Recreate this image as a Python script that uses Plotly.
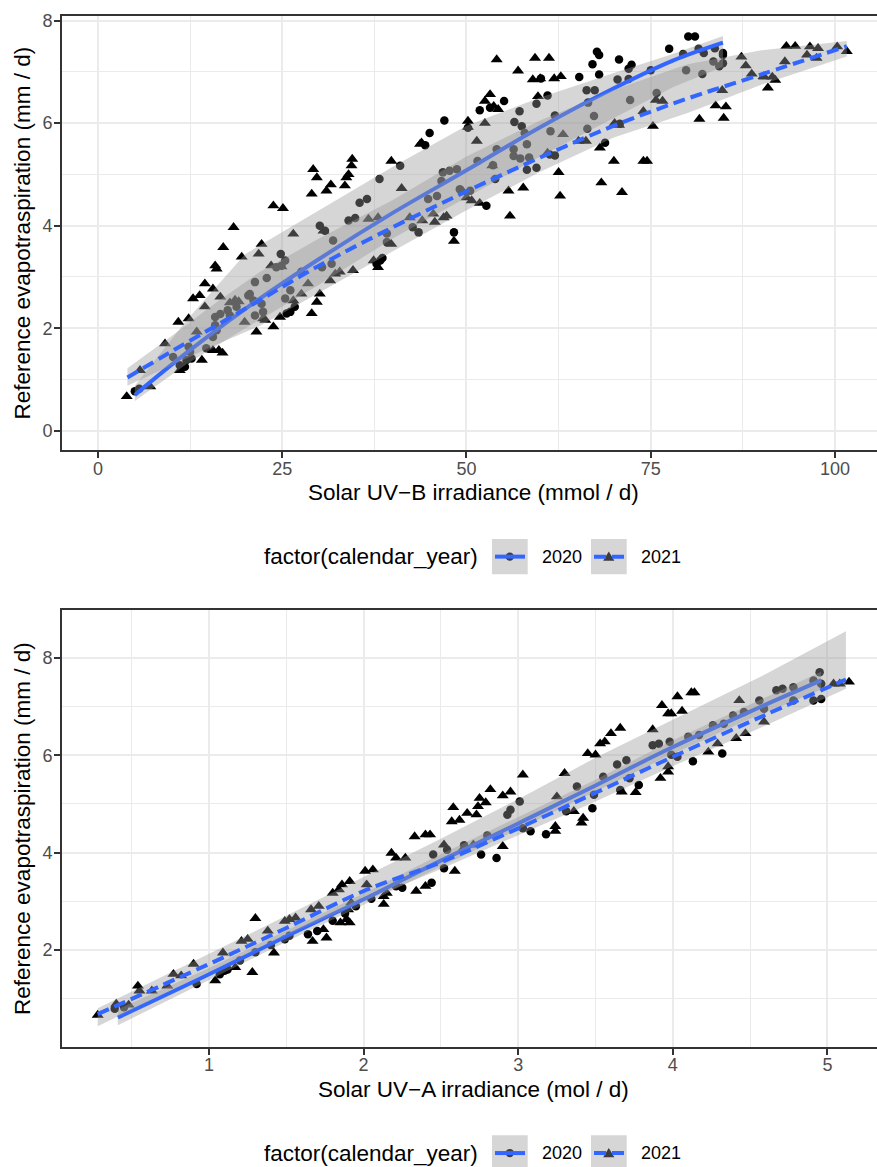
import plotly.graph_objects as go

W, H = 877, 1167

# ---------------- Top panel: Solar UV-B irradiance (mmol / d) ----------------
uvb_2020 = [(5.0,0.77),(5.6,0.82),(10.2,1.44),(11.1,1.28),(11.8,1.25),(12.0,1.38),(12.3,1.64),(12.5,1.54),(12.7,1.41),
            (14.7,1.61),(15.6,1.83),(15.9,2.22),(15.9,2.06),(16.1,1.96),(16.6,2.28),(17.6,2.35),(17.9,2.25),(18.8,2.42),
            (18.8,2.51),(20.4,2.64),(20.6,2.67),(21.1,2.54),(21.3,2.90),(21.3,2.25),(22.2,2.48),(22.4,2.32),(22.9,2.98),
            (24.2,3.19),(24.8,3.45),(24.9,3.22),(25.4,3.32),(25.4,2.58),(25.6,2.29),(26.1,2.32),(26.1,2.74),(26.7,2.42),
            (27.6,3.10),(30.1,4.00),(30.8,3.90),(30.4,3.19),(31.7,3.26),(31.9,3.71),(34.0,4.10),(34.9,4.15),(35.5,4.45),
            (36.5,4.52),(37.8,3.26),(38.3,3.32),(38.6,3.37),(38.2,4.91),(39.2,3.68),(39.2,3.85),(41.0,5.17),(42.7,3.97),
            (43.5,3.87),(44.4,5.57),(44.8,4.52),(45.0,5.81),(46.0,4.58),(46.6,4.87),(46.8,5.04),(47.0,6.05),(47.7,5.07),
            (48.3,3.87),(48.7,5.10),(49.1,4.71),(50.5,4.68),(50.2,5.91),(51.5,5.26),(51.8,6.25),(52.7,4.39),(53.2,6.30),
            (53.6,5.18),(53.9,4.91),(54.1,5.49),(55.1,6.43),(56.4,5.49),(56.4,5.36),(56.5,6.02),(57.2,6.23),(57.3,5.31),
            (57.5,5.94),(57.9,5.81),(58.2,5.59),(58.2,5.09),(58.5,5.33),(59.5,5.13),(59.5,6.38),(60.1,6.87),(61.0,6.54),
            (61.4,5.84),(62.0,6.15),(62.0,5.37),(61.3,5.39),(65.3,6.90),(66.3,6.64),(66.4,5.89),(66.5,6.40),(67.1,7.15),
            (67.3,6.14),(67.4,6.64),(67.7,7.39),(68.0,7.33),(68.0,6.95),(68.8,5.62),(70.5,6.85),(70.7,7.24),(70.8,5.99),
            (72.0,6.86),(72.2,6.45),(72.4,7.14),(72.0,7.06),(75.0,7.03),(75.8,6.59),(77.5,7.45),(79.4,7.35),(79.8,7.03),
            (80.1,7.69),(81.0,7.69),(81.5,7.45),(82.0,6.96),(82.2,7.37),(83.5,7.20),(83.7,7.46),(84.3,7.11),(84.8,7.33),
            (84.8,7.17),(84.8,7.37)]
uvb_2021 = [(3.9,0.67),(5.7,1.18),(7.1,0.86),(9.1,1.70),(10.9,2.12),(11.1,1.18),(12.3,2.19),(12.9,2.58),(13.4,1.93),
            (13.8,2.64),(14.1,1.38),(14.5,2.87),(14.5,2.42),(15.6,2.77),(15.6,1.57),(15.9,3.22),(16.1,3.16),(16.4,1.57),
            (16.9,1.52),(16.6,2.61),(17.0,3.58),(17.9,2.50),(18.4,3.97),(18.6,2.55),(19.1,2.52),(19.5,3.39),(19.9,2.12),
            (21.5,1.93),(21.8,3.45),(22.2,3.64),(22.4,2.19),(22.7,2.16),(23.5,3.22),(23.8,2.03),(23.8,4.39),(24.7,2.22),
            (24.9,3.20),(25.1,4.34),(26.5,3.84),(26.5,2.54),(27.6,2.67),(28.5,2.87),(29.0,4.62),(29.0,2.29),(29.2,5.10),
            (29.7,4.94),(29.7,2.51),(30.1,2.67),(30.6,3.90),(31.0,4.68),(31.5,2.93),(31.6,4.80),(32.2,3.06),(32.8,3.10),
            (33.5,4.78),(33.7,4.94),(34.0,5.00),(34.4,5.17),(34.5,5.30),(34.6,3.13),(36.7,4.13),(37.4,3.32),(38.0,3.19),
            (38.0,4.16),(39.8,5.26),(39.8,3.64),(41.2,4.73),(42.3,4.16),(43.7,5.59),(43.9,5.62),(44.0,4.10),(45.5,4.23),
            (45.7,4.07),(46.9,4.16),(47.3,4.19),(48.3,3.70),(49.6,4.65),(50.0,4.55),(50.2,6.04),(50.2,5.92),(50.7,4.49),
            (51.4,5.65),(51.8,4.44),(52.5,6.00),(52.5,6.43),(53.2,6.56),(53.5,5.17),(53.7,6.33),(54.1,7.24),(54.3,6.27),
            (55.7,4.68),(55.9,4.19),(57.0,7.02),(57.7,4.74),(59.0,6.85),(59.3,7.27),(59.7,6.52),(60.0,6.87),(61.0,5.42),
            (61.2,7.27),(61.9,6.87),(62.5,5.04),(62.7,4.58),(62.8,6.91),(63.1,5.78),(65.2,5.65),(66.2,5.65),(68.1,5.52),
            (68.3,4.84),(70.0,5.26),(70.1,6.00),(70.7,5.96),(71.1,4.65),(74.0,6.23),(74.0,5.26),(74.5,5.26),(75.3,5.94),
            (75.7,6.45),(76.6,6.43),(81.6,6.08),(83.8,6.34),(84.7,6.64),(84.9,6.10),(85.2,6.32),(87.3,7.29),(87.9,7.12),
            (88.7,6.96),(90.3,6.91),(90.4,6.90),(90.9,6.69),(91.5,6.90),(91.9,6.84),(93.2,7.20),(93.4,7.50),(94.6,7.50),
            (96.2,7.33),(96.6,7.49),(97.5,7.27),(97.7,7.46),(100.3,7.49),(101.6,7.40)]

uvb_fit20_x  = [5, 12, 20, 30, 40, 50, 60, 70, 78, 84.8]
uvb_fit20_y  = [0.70, 1.52, 2.38, 3.35, 4.25, 5.08, 5.92, 6.68, 7.22, 7.57]
uvb_fit20_lo = [0.58, 1.30, 2.00, 2.85, 3.75, 4.55, 5.35, 6.10, 6.70, 7.10]
uvb_fit20_hi = [0.88, 2.15, 3.45, 4.30, 5.15, 5.95, 6.50, 6.98, 7.35, 7.70]
uvb_fit21_x  = [4, 10, 16, 22, 30, 40, 50, 60, 70, 80, 90, 101.6]
uvb_fit21_y  = [1.04, 1.55, 2.05, 2.55, 3.22, 3.97, 4.67, 5.33, 5.95, 6.48, 6.95, 7.50]
uvb_fit21_lo = [0.88, 1.28, 1.68, 2.05, 2.70, 3.50, 4.30, 5.05, 5.72, 6.20, 6.75, 7.30]
uvb_fit21_hi = [1.22, 1.85, 2.50, 3.10, 3.75, 4.50, 5.35, 6.05, 6.65, 7.15, 7.42, 7.60]

# ---------------- Bottom panel: Solar UV-A irradiance (mol / d) ----------------
uva_2020 = [(0.39,0.79),(0.45,0.82),(0.92,1.30),(1.07,1.50),(1.10,1.57),(1.12,1.60),(1.20,1.78),(1.30,1.95),(1.40,2.10),
            (1.49,2.22),(1.52,2.29),(1.64,2.32),(1.70,2.39),(1.80,2.60),(1.88,2.75),(1.95,2.90),(2.05,3.05),(2.21,3.31),
            (2.25,3.28),(2.44,3.38),(2.45,3.96),(2.52,3.68),(2.54,4.06),(2.65,4.15),(2.76,3.96),(2.80,4.35),(2.86,3.89),
            (2.93,4.78),(2.95,4.88),(3.01,5.05),(3.03,4.50),(3.08,4.44),(3.18,4.38),(3.31,4.85),(3.38,5.36),(3.48,4.91),
            (3.49,5.19),(3.55,5.56),(3.64,5.81),(3.66,5.29),(3.70,5.90),(3.72,5.53),(3.78,5.39),(3.87,6.21),(3.91,6.24),
            (3.98,6.28),(3.99,6.01),(4.03,5.97),(4.10,6.38),(4.13,5.88),(4.17,6.42),(4.26,6.62),(4.32,6.04),(4.33,6.65),
            (4.39,6.82),(4.46,6.89),(4.56,7.13),(4.59,6.96),(4.67,7.34),(4.71,7.37),(4.78,7.40),(4.78,7.13),(4.91,7.54),
            (4.91,7.13),(4.95,7.71),(4.96,7.47),(4.96,7.16)]
uva_2021 = [(0.28,0.66),(0.40,0.89),(0.48,0.87),(0.54,1.26),(0.55,1.16),(0.63,1.16),(0.73,1.26),(0.77,1.50),(0.82,1.47),
            (0.90,1.71),(1.04,1.37),(1.09,1.94),(1.17,1.64),(1.21,2.18),(1.25,2.22),(1.28,1.54),(1.30,2.65),(1.38,2.39),
            (1.42,1.94),(1.49,2.59),(1.52,2.63),(1.56,2.66),(1.66,2.83),(1.67,2.18),(1.71,2.90),(1.74,2.42),(1.76,2.25),
            (1.80,3.17),(1.84,3.24),(1.85,2.56),(1.86,3.34),(1.89,2.63),(1.90,2.83),(1.91,3.41),(1.91,2.56),(1.92,2.97),
            (2.01,3.62),(2.02,3.34),(2.06,3.65),(2.13,2.94),(2.13,3.10),(2.15,3.17),(2.18,3.99),(2.21,3.89),(2.27,3.89),
            (2.33,4.33),(2.34,3.21),(2.40,4.37),(2.40,3.31),(2.43,4.37),(2.52,4.16),(2.57,4.64),(2.58,4.93),(2.59,3.62),
            (2.62,4.67),(2.64,4.06),(2.67,4.81),(2.71,4.16),(2.73,4.78),(2.74,4.95),(2.75,5.12),(2.79,5.03),(2.82,5.30),
            (2.90,5.17),(2.90,4.13),(2.95,5.25),(3.03,5.60),(3.24,4.54),(3.24,4.44),(3.25,5.15),(3.30,5.63),(3.36,4.85),
            (3.41,4.61),(3.42,4.71),(3.45,6.04),(3.50,6.01),(3.53,6.24),(3.56,6.28),(3.60,6.45),(3.66,6.56),(3.67,5.25),
            (3.76,5.24),(3.87,6.53),(3.92,5.53),(3.93,7.03),(3.97,6.86),(3.97,5.66),(3.97,5.77),(3.99,6.86),(4.03,7.21),
            (4.06,6.91),(4.12,7.29),(4.14,7.29),(4.23,6.07),(4.29,6.24),(4.41,6.35),(4.43,7.13),(4.47,6.45),(4.59,6.69),
            (5.04,7.47),(5.08,7.47),(5.14,7.51)]

uva_fit20_x  = [0.41, 1.0, 1.5, 2.0, 2.49, 3.0, 3.5, 3.98, 4.5, 4.96]
uva_fit20_y  = [0.61, 1.50, 2.28, 3.04, 3.82, 4.60, 5.38, 6.14, 6.90, 7.54]
uva_fit20_lo = [0.45, 1.38, 2.17, 2.93, 3.70, 4.48, 5.25, 6.00, 6.75, 7.35]
uva_fit20_hi = [0.78, 1.63, 2.40, 3.16, 3.95, 4.73, 5.50, 6.28, 7.05, 7.72]
uva_fit21_x  = [0.28, 1.0, 1.5, 2.0, 2.49, 3.0, 3.5, 3.98, 4.59, 5.12]
uva_fit21_y  = [0.68, 1.71, 2.45, 3.21, 3.79, 4.50, 5.23, 5.94, 6.82, 7.56]
uva_fit21_lo = [0.43, 1.55, 2.30, 3.00, 3.65, 4.35, 5.05, 5.75, 6.60, 7.37]
uva_fit21_hi = [0.80, 1.92, 2.70, 3.50, 4.27, 5.10, 5.95, 6.70, 7.65, 8.55]

years = ["2020", "2021"]
legend_title = "factor(calendar_year)"

FONT = "Liberation Sans, Arial, Helvetica, sans-serif"
BLUE = "#3366FF"
RIBBON = "rgba(153,153,153,0.4)"
GRID = "#EBEBEB"
DASH = "12px,6px"

fig = go.Figure()


def add_panel(xa, ya, pts20, pts21, f20, f21):
    for pts, sym, size in ((pts20, "circle", 8.5), (pts21, "triangle-up", 10.5)):
        fig.add_trace(go.Scatter(
            x=[p[0] for p in pts], y=[p[1] for p in pts], mode="markers",
            marker=dict(symbol=sym, size=size, color="black", line=dict(width=0)),
            xaxis=xa, yaxis=ya, showlegend=False, hoverinfo="skip"))
    for (fx, fy, lo, hi), dash in ((f20, "solid"), (f21, DASH)):
        fig.add_trace(go.Scatter(
            x=list(fx) + list(fx)[::-1], y=list(hi) + list(lo)[::-1],
            mode="lines", fill="toself", fillcolor=RIBBON, line=dict(width=0),
            xaxis=xa, yaxis=ya, showlegend=False, hoverinfo="skip"))
        fig.add_trace(go.Scatter(
            x=fx, y=fy, mode="lines", line=dict(color=BLUE, width=4, dash=dash, shape="spline", smoothing=1.0),
            xaxis=xa, yaxis=ya, showlegend=False, hoverinfo="skip"))


add_panel("x", "y", uvb_2020, uvb_2021,
          (uvb_fit20_x, uvb_fit20_y, uvb_fit20_lo, uvb_fit20_hi),
          (uvb_fit21_x, uvb_fit21_y, uvb_fit21_lo, uvb_fit21_hi))
add_panel("x2", "y2", uva_2020, uva_2021,
          (uva_fit20_x, uva_fit20_y, uva_fit20_lo, uva_fit20_hi),
          (uva_fit21_x, uva_fit21_y, uva_fit21_lo, uva_fit21_hi))


def px(v):
    return v / W


def py(v):
    return 1 - v / H


def axis(domain, rng, tickvals, minor_vals, anchor, mirror, standoff):
    return dict(
        domain=domain, range=rng, anchor=anchor, tickmode="array", tickvals=tickvals,
        ticktext=[("%g" % t) for t in tickvals],
        showgrid=True, gridcolor=GRID, gridwidth=2, zeroline=False,
        minor=dict(tickmode="array", tickvals=minor_vals, showgrid=True, gridcolor=GRID, gridwidth=1, ticks=""),
        showline=True, linecolor="#333333", linewidth=2, mirror=mirror,
        ticks="outside", ticklen=6, tickwidth=2, tickcolor="#333333",
        tickfont=dict(family=FONT, size=18, color="#4D4D4D"), ticklabelstandoff=standoff,
        fixedrange=True)


top_dom = [py(447), py(11)]
bot_dom = [py(1046), py(608)]
xdom = [px(62), 1.0]

fig.update_layout(
    width=W, height=H, margin=dict(l=0, r=0, t=0, b=0),
    paper_bgcolor="white", plot_bgcolor="white", showlegend=False,
    font=dict(family=FONT, color="black"),
    xaxis=axis(xdom, [-4.88, 105.7], [0, 25, 50, 75, 100], [12.5, 37.5, 62.5, 87.5], "y", True, -5),
    yaxis=axis(top_dom, [-0.375, 8.09], [0, 2, 4, 6, 8], [1, 3, 5, 7], "x", False, -2),
    xaxis2=axis(xdom, [0.049, 5.321], [1, 2, 3, 4, 5], [0.5, 1.5, 2.5, 3.5, 4.5], "y2", True, -5),
    yaxis2=axis(bot_dom, [0.014, 8.98], [2, 4, 6, 8], [1, 3, 5, 7], "x2", False, -2),
)

annotations = []
shapes = []
TITLE = 22.5


def title_x(text, ypx):
    annotations.append(dict(text=text, x=px(473), y=py(ypx), xref="paper", yref="paper",
                            showarrow=False, xanchor="center", yanchor="middle",
                            font=dict(family=FONT, size=TITLE, color="black")))


def title_y(text, ypx):
    annotations.append(dict(text=text, x=px(22.5), y=py(ypx), xref="paper", yref="paper",
                            showarrow=False, xanchor="center", yanchor="middle", textangle=-90,
                            font=dict(family=FONT, size=TITLE, color="black")))


title_x("Solar UV\u2212B irradiance (mmol / d)", 490)
title_y("Reference evapotraspiration (mm / d)", 229)
title_x("Solar UV\u2212A irradiance (mol / d)", 1089)
title_y("Reference evapotraspiration (mm / d)", 827)


def legend(cy):
    annotations.append(dict(text=legend_title, x=px(479.5), y=py(cy), xref="paper", yref="paper",
                            showarrow=False, xanchor="right", yanchor="middle",
                            font=dict(family=FONT, size=TITLE, color="black")))
    for i, yr in enumerate(years):
        x0 = 492 + i * 99
        cx = x0 + 17.8
        shapes.append(dict(type="rect", xref="paper", yref="paper", x0=px(x0), x1=px(x0 + 35.7),
                           y0=py(cy - 17.8), y1=py(cy + 17.8), fillcolor="#D6D6D6", line=dict(width=0),
                           layer="above"))
        if i == 0:
            r = 4.2
            shapes.append(dict(type="circle", xref="paper", yref="paper", x0=px(cx - r), x1=px(cx + r),
                               y0=py(cy - r), y1=py(cy + r), fillcolor="#3D3D3D", line=dict(width=0),
                               layer="above"))
        else:
            h = 5.2
            path = "M %f %f L %f %f L %f %f Z" % (px(cx - 5.6), py(cy + 4.2), px(cx + 5.6), py(cy + 4.2),
                                                  px(cx), py(cy - h))
            shapes.append(dict(type="path", xref="paper", yref="paper", path=path, fillcolor="#3D3D3D",
                               line=dict(width=0), layer="above"))
        shapes.append(dict(type="line", xref="paper", yref="paper", x0=px(x0 + 3), x1=px(x0 + 33),
                           y0=py(cy), y1=py(cy), line=dict(color=BLUE, width=4,
                                                           dash="solid" if i == 0 else DASH),
                           layer="above"))
        annotations.append(dict(text=yr, x=px(x0 + 47.5), y=py(cy), xref="paper", yref="paper",
                                showarrow=False, xanchor="left", yanchor="middle",
                                font=dict(family=FONT, size=18, color="black")))


legend(554)
legend(1153)

fig.update_layout(annotations=annotations, shapes=shapes)
fig.write_html("out.html", config={"displayModeBar": False},
               post_script="document.body.style.margin='0px';document.body.style.padding='0px';"
                           "document.body.style.overflow='hidden';")
